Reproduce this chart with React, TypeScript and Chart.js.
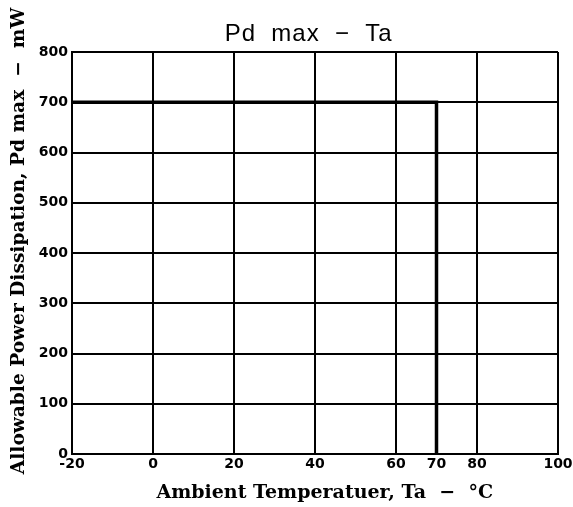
import React, { useEffect, useRef } from "react";
import { Chart, registerables } from "chart.js";

Chart.register(...registerables);

// ---- data ----
const TEMPERATURE_C = [-20, 70, 70];
const PD_MAX_MW = [700, 700, 0];
const X_TICKS = [-20, 0, 20, 40, 60, 70, 80, 100];
const X_TICK_LABELS = ["-20", "0", "20", "40", "60", "70", "80", "100"];
const X_NO_GRID = [70];
const Y_MIN = 0;
const Y_MAX = 800;
const Y_STEP = 100;
const TITLE = "Pd  max  −  Ta";
const X_TITLE = "Ambient Temperatuer, Ta  −  °C";
const Y_TITLE = "Allowable Power Dissipation, Pd max  −  mW";

const titlesPlugin = {
  id: "customTitles",
  afterDraw(chart: any) {
    const { ctx, chartArea } = chart;
    const w = chartArea.right - chartArea.left;
    const h = chartArea.bottom - chartArea.top;
    ctx.save();
    ctx.fillStyle = "#000";
    ctx.textAlign = "center";
    ctx.textBaseline = "alphabetic";
    ctx.font = '24px "Liberation Sans", Arial, sans-serif';
    try {
      (ctx as any).letterSpacing = "1px";
    } catch (e) {}
    ctx.fillText(TITLE, chartArea.left + w * 0.487, chartArea.top - 11);
    try {
      (ctx as any).letterSpacing = "0px";
    } catch (e) {}

    ctx.font = 'bold 19px "DejaVu Serif", serif';
    ctx.fillText(X_TITLE, chartArea.left + w * 0.52, chartArea.bottom + 44);

    ctx.font = 'bold 18.6px "DejaVu Serif", serif';
    ctx.translate(24, chartArea.top + h * 0.47);
    ctx.rotate(-Math.PI / 2);
    ctx.fillText(Y_TITLE, 0, 0);
    ctx.restore();
  },
};

export default function App() {
  const canvasRef = useRef<HTMLCanvasElement | null>(null);

  useEffect(() => {
    const canvas = canvasRef.current;
    if (!canvas) return;
    const chart = new Chart(canvas, {
      type: "scatter",
      data: {
        datasets: [
          {
            data: TEMPERATURE_C.map((x, i) => ({ x, y: PD_MAX_MW[i] })),
            showLine: true,
            borderColor: "#000",
            borderWidth: 3.5,
            pointRadius: 0,
            fill: false,
            tension: 0,
          },
        ],
      },
      options: {
        animation: false,
        responsive: true,
        maintainAspectRatio: false,
        layout: { padding: { left: 0, right: 15, top: 52, bottom: 0 } },
        plugins: {
          legend: { display: false },
          title: { display: false },
          tooltip: { enabled: false },
        },
        scales: {
          x: {
            type: "linear",
            min: X_TICKS[0],
            max: X_TICKS[X_TICKS.length - 1],
            afterBuildTicks: (scale: any) => {
              scale.ticks = X_TICKS.map((v) => ({ value: v }));
            },
            afterFit: (scale: any) => {
              scale.height = 53;
              scale.paddingLeft = 0;
              scale.paddingRight = 0;
            },
            ticks: {
              autoSkip: false,
              maxRotation: 0,
              padding: 2,
              color: "#000",
              font: { family: '"DejaVu Sans", sans-serif', size: 14, weight: "bold" },
              callback: (v: any) => {
                const i = X_TICKS.indexOf(Number(v));
                return i >= 0 ? X_TICK_LABELS[i] : "";
              },
            },
            grid: {
              drawTicks: false,
              lineWidth: 2,
              color: (ctx: any) =>
                ctx.tick && X_NO_GRID.includes(ctx.tick.value) ? "rgba(0,0,0,0)" : "#000",
            },
            border: { display: true, color: "#000", width: 2 },
          },
          y: {
            type: "linear",
            min: Y_MIN,
            max: Y_MAX,
            afterFit: (scale: any) => {
              scale.width = 72;
              scale.paddingTop = 0;
              scale.paddingBottom = 0;
            },
            ticks: {
              stepSize: Y_STEP,
              padding: 4,
              color: "#000",
              font: { family: '"DejaVu Sans", sans-serif', size: 14, weight: "bold" },
            },
            grid: { drawTicks: false, lineWidth: 2, color: "#000" },
            border: { display: true, color: "#000", width: 2 },
          },
        },
      },
      plugins: [titlesPlugin],
    });
    return () => chart.destroy();
  }, []);

  return (
    <div style={{ position: "fixed", left: 0, top: 0, width: 573, height: 507, background: "#fff" }}>
      <canvas ref={canvasRef} />
    </div>
  );
}
